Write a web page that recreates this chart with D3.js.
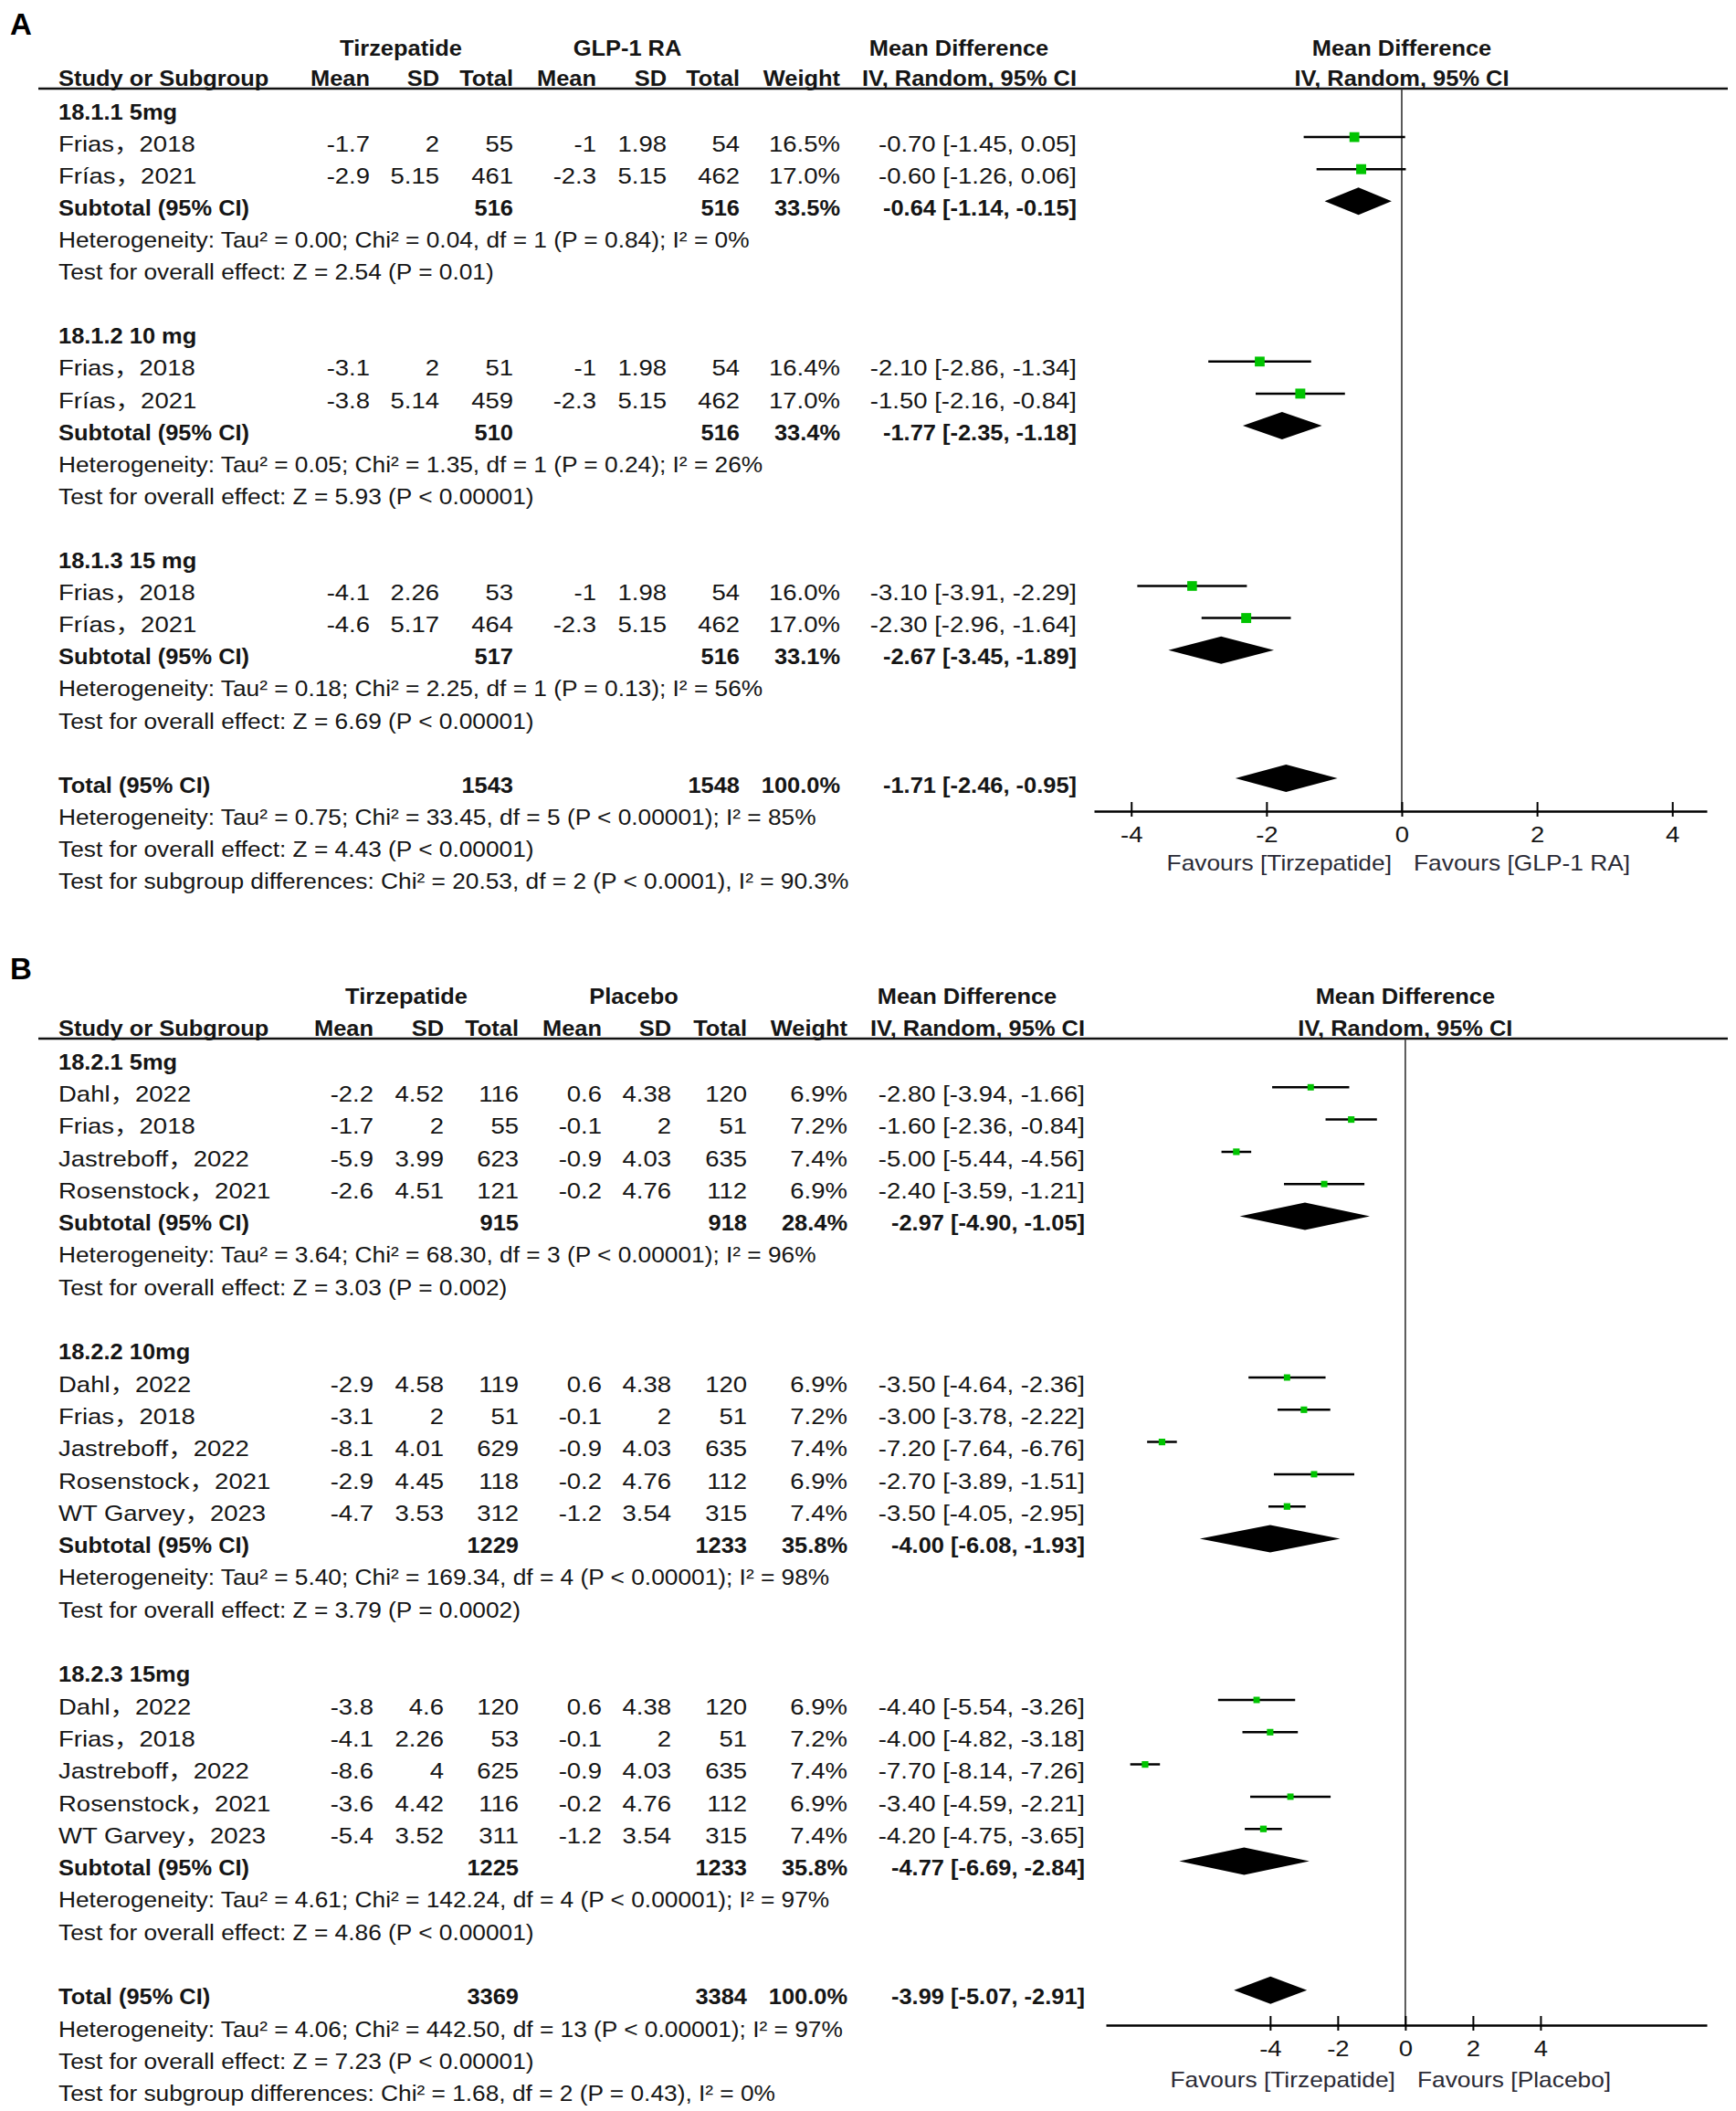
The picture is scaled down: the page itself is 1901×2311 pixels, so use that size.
<!DOCTYPE html>
<html><head><meta charset="utf-8">
<script src="https://cdn.jsdelivr.net/npm/d3@7"></script>
<style>body{margin:0;background:#fff} svg{display:block}</style>
</head><body>
<svg id="c" width="1901" height="2311"></svg>
<script>
// ================= Panel A data (Tirzepatide vs GLP-1 RA) =================
const groupsA   = ["18.1.1 5mg", "18.1.2 10 mg", "18.1.3 15 mg"];
const studyA    = ["Frias，2018", "Frías，2021", "Frias，2018", "Frías，2021", "Frias，2018", "Frías，2021"];
const groupOfA  = [0, 0, 1, 1, 2, 2];
const tMeanA    = [-1.7, -2.9, -3.1, -3.8, -4.1, -4.6];
const tSdA      = [2, 5.15, 2, 5.14, 2.26, 5.17];
const tNA       = [55, 461, 51, 459, 53, 464];
const cMeanA    = [-1, -2.3, -1, -2.3, -1, -2.3];
const cSdA      = [1.98, 5.15, 1.98, 5.15, 1.98, 5.15];
const cNA       = [54, 462, 54, 462, 54, 462];
const weightA   = [16.5, 17.0, 16.4, 17.0, 16.0, 17.0];
const mdA       = [-0.70, -0.60, -2.10, -1.50, -3.10, -2.30];
const loA       = [-1.45, -1.26, -2.86, -2.16, -3.91, -2.96];
const hiA       = [0.05, 0.06, -1.34, -0.84, -2.29, -1.64];
const subTNA    = [516, 510, 517];
const subCNA    = [516, 516, 516];
const subWA     = [33.5, 33.4, 33.1];
const subMdA    = [-0.64, -1.77, -2.67];
const subLoA    = [-1.14, -2.35, -3.45];
const subHiA    = [-0.15, -1.18, -1.89];
const hetA      = ["Heterogeneity: Tau² = 0.00; Chi² = 0.04, df = 1 (P = 0.84); I² = 0%",
                   "Heterogeneity: Tau² = 0.05; Chi² = 1.35, df = 1 (P = 0.24); I² = 26%",
                   "Heterogeneity: Tau² = 0.18; Chi² = 2.25, df = 1 (P = 0.13); I² = 56%"];
const testA     = ["Test for overall effect: Z = 2.54 (P = 0.01)",
                   "Test for overall effect: Z = 5.93 (P < 0.00001)",
                   "Test for overall effect: Z = 6.69 (P < 0.00001)"];
const totalA    = [1543, 1548, 100.0, -1.71, -2.46, -0.95];
const totalTextA = ["Heterogeneity: Tau² = 0.75; Chi² = 33.45, df = 5 (P < 0.00001); I² = 85%",
                    "Test for overall effect: Z = 4.43 (P < 0.00001)",
                    "Test for subgroup differences: Chi² = 20.53, df = 2 (P < 0.0001), I² = 90.3%"];
const ticksA    = [-4, -2, 0, 2, 4];

// ================= Panel B data (Tirzepatide vs Placebo) =================
const groupsB   = ["18.2.1 5mg", "18.2.2 10mg", "18.2.3 15mg"];
const studyB    = ["Dahl，2022", "Frias，2018", "Jastreboff，2022", "Rosenstock，2021",
                   "Dahl，2022", "Frias，2018", "Jastreboff，2022", "Rosenstock，2021", "WT Garvey，2023",
                   "Dahl，2022", "Frias，2018", "Jastreboff，2022", "Rosenstock，2021", "WT Garvey，2023"];
const groupOfB  = [0, 0, 0, 0, 1, 1, 1, 1, 1, 2, 2, 2, 2, 2];
const tMeanB    = [-2.2, -1.7, -5.9, -2.6, -2.9, -3.1, -8.1, -2.9, -4.7, -3.8, -4.1, -8.6, -3.6, -5.4];
const tSdB      = [4.52, 2, 3.99, 4.51, 4.58, 2, 4.01, 4.45, 3.53, 4.6, 2.26, 4, 4.42, 3.52];
const tNB       = [116, 55, 623, 121, 119, 51, 629, 118, 312, 120, 53, 625, 116, 311];
const cMeanB    = [0.6, -0.1, -0.9, -0.2, 0.6, -0.1, -0.9, -0.2, -1.2, 0.6, -0.1, -0.9, -0.2, -1.2];
const cSdB      = [4.38, 2, 4.03, 4.76, 4.38, 2, 4.03, 4.76, 3.54, 4.38, 2, 4.03, 4.76, 3.54];
const cNB       = [120, 51, 635, 112, 120, 51, 635, 112, 315, 120, 51, 635, 112, 315];
const weightB   = [6.9, 7.2, 7.4, 6.9, 6.9, 7.2, 7.4, 6.9, 7.4, 6.9, 7.2, 7.4, 6.9, 7.4];
const mdB       = [-2.80, -1.60, -5.00, -2.40, -3.50, -3.00, -7.20, -2.70, -3.50, -4.40, -4.00, -7.70, -3.40, -4.20];
const loB       = [-3.94, -2.36, -5.44, -3.59, -4.64, -3.78, -7.64, -3.89, -4.05, -5.54, -4.82, -8.14, -4.59, -4.75];
const hiB       = [-1.66, -0.84, -4.56, -1.21, -2.36, -2.22, -6.76, -1.51, -2.95, -3.26, -3.18, -7.26, -2.21, -3.65];
const subTNB    = [915, 1229, 1225];
const subCNB    = [918, 1233, 1233];
const subWB     = [28.4, 35.8, 35.8];
const subMdB    = [-2.97, -4.00, -4.77];
const subLoB    = [-4.90, -6.08, -6.69];
const subHiB    = [-1.05, -1.93, -2.84];
const hetB      = ["Heterogeneity: Tau² = 3.64; Chi² = 68.30, df = 3 (P < 0.00001); I² = 96%",
                   "Heterogeneity: Tau² = 5.40; Chi² = 169.34, df = 4 (P < 0.00001); I² = 98%",
                   "Heterogeneity: Tau² = 4.61; Chi² = 142.24, df = 4 (P < 0.00001); I² = 97%"];
const testB     = ["Test for overall effect: Z = 3.03 (P = 0.002)",
                   "Test for overall effect: Z = 3.79 (P = 0.0002)",
                   "Test for overall effect: Z = 4.86 (P < 0.00001)"];
const totalB    = [3369, 3384, 100.0, -3.99, -5.07, -2.91];
const totalTextB = ["Heterogeneity: Tau² = 4.06; Chi² = 442.50, df = 13 (P < 0.00001); I² = 97%",
                    "Test for overall effect: Z = 7.23 (P < 0.00001)",
                    "Test for subgroup differences: Chi² = 1.68, df = 2 (P = 0.43), I² = 0%"];
const ticksB    = [-4, -2, 0, 2, 4];

const colHeaders = ["Mean", "SD", "Total", "Mean", "SD", "Total", "Weight"];

// ================= drawing =================
const FONT = "'Liberation Sans', Arial, 'Noto Sans CJK SC', sans-serif";
const TXT = "#151515";
const GREEN = "#00c400";
const STAT_SX = 1.096;
const svg = d3.select("#c");

function txt(g, x, y, s, o = {}) {
  const bold = !!o.bold;
  const sx = o.sx != null ? o.sx : (bold ? 1.06 : 1.146);
  return g.append("text")
    .attr("transform", `translate(${x},${y}) scale(${sx},1)`)
    .attr("text-anchor", o.anchor || "start")
    .attr("font-family", FONT)
    .attr("font-size", o.size || 24)
    .attr("font-weight", bold ? "bold" : "normal")
    .attr("fill", o.fill || TXT)
    .text(s);
}
const f2 = v => v.toFixed(2);
const ci = (m, l, h) => `${f2(m)} [${f2(l)}, ${f2(h)}]`;

function drawPanel(d, L) {
  const g = svg.append("g");
  const x = d3.scaleLinear().domain(L.xDomain).range(L.xRange);
  const nRows = 40;
  const y = d3.scaleLinear().domain([0, nRows]).range([L.row0, L.row0 + nRows * L.pitch]);
  const BL = 8.6, MK = -7;   // baseline offset, marker offset from text centre
  const x0 = x(0);

  // panel letter
  g.append("text").attr("x", 11).attr("y", L.labelY).attr("font-family", FONT)
    .attr("font-size", 33).attr("font-weight", "bold").attr("fill", "#000").text(L.label);

  // header row 1
  txt(g, L.grpX[0], L.hdr1Y + BL, d.arms[0], {bold: true, anchor: "middle"});
  txt(g, L.grpX[1], L.hdr1Y + BL, d.arms[1], {bold: true, anchor: "middle"});
  txt(g, L.ciEnd - 129, L.hdr1Y + BL, "Mean Difference", {bold: true, anchor: "middle"});
  txt(g, x0, L.hdr1Y + BL, "Mean Difference", {bold: true, anchor: "middle"});
  // header row 2
  txt(g, L.nameX, L.hdr2Y + BL, "Study or Subgroup", {bold: true});
  colHeaders.forEach((h, i) => txt(g, L.cols[i], L.hdr2Y + BL, h, {bold: true, anchor: "end"}));
  txt(g, L.ciEnd, L.hdr2Y + BL, "IV, Random, 95% CI", {bold: true, anchor: "end"});
  txt(g, x0, L.hdr2Y + BL, "IV, Random, 95% CI", {bold: true, anchor: "middle"});
  g.append("line").attr("x1", 42).attr("x2", 1892).attr("y1", L.lineY).attr("y2", L.lineY)
    .attr("stroke", "#111").attr("stroke-width", 2.5);

  // zero line
  g.append("line").attr("x1", x0).attr("x2", x0).attr("y1", L.lineY).attr("y2", L.axisY)
    .attr("stroke", "#333").attr("stroke-width", 1.6);

  const diamond = (m, lo, hi, yy) =>
    `M${x(lo)},${yy}L${x(m)},${yy - 15}L${x(hi)},${yy}L${x(m)},${yy + 15}Z`;

  let r = 0;
  d.groups.forEach((gname, gi) => {
    txt(g, L.nameX, y(r) + BL, gname, {bold: true});
    r++;
    d.study.forEach((s, i) => {
      if (d.groupOf[i] !== gi) return;
      const yy = y(r);
      txt(g, L.nameX, yy + BL, s);
      const vals = [d.tMean[i], d.tSd[i], d.tN[i], d.cMean[i], d.cSd[i], d.cN[i]];
      vals.forEach((v, k) => txt(g, L.cols[k], yy + BL, String(v), {anchor: "end"}));
      txt(g, L.cols[6], yy + BL, d.weight[i].toFixed(1) + "%", {anchor: "end"});
      txt(g, L.ciEnd, yy + BL, ci(d.md[i], d.lo[i], d.hi[i]), {anchor: "end"});
      g.append("line").attr("x1", x(d.lo[i])).attr("x2", x(d.hi[i]))
        .attr("y1", yy + MK).attr("y2", yy + MK).attr("stroke", "#000").attr("stroke-width", 2.5);
      const side = 2.65 * Math.sqrt(d.weight[i]);
      g.append("rect").attr("x", x(d.md[i]) - side / 2).attr("y", yy + MK - side / 2)
        .attr("width", side).attr("height", side).attr("fill", GREEN);
      r++;
    });
    const yy = y(r);
    txt(g, L.nameX, yy + BL, "Subtotal (95% CI)", {bold: true});
    txt(g, L.cols[2], yy + BL, String(d.subTN[gi]), {bold: true, anchor: "end"});
    txt(g, L.cols[5], yy + BL, String(d.subCN[gi]), {bold: true, anchor: "end"});
    txt(g, L.cols[6], yy + BL, d.subW[gi].toFixed(1) + "%", {bold: true, anchor: "end"});
    txt(g, L.ciEnd, yy + BL, ci(d.subMd[gi], d.subLo[gi], d.subHi[gi]), {bold: true, anchor: "end"});
    g.append("path").attr("d", diamond(d.subMd[gi], d.subLo[gi], d.subHi[gi], yy + MK)).attr("fill", "#000");
    r++;
    txt(g, L.nameX, y(r) + BL, d.het[gi], {sx: STAT_SX}); r++;
    txt(g, L.nameX, y(r) + BL, d.test[gi], {sx: STAT_SX}); r++;
    r++;
  });
  // total
  const ty = y(r);
  txt(g, L.nameX, ty + BL, "Total (95% CI)", {bold: true});
  txt(g, L.cols[2], ty + BL, String(d.total[0]), {bold: true, anchor: "end"});
  txt(g, L.cols[5], ty + BL, String(d.total[1]), {bold: true, anchor: "end"});
  txt(g, L.cols[6], ty + BL, d.total[2].toFixed(1) + "%", {bold: true, anchor: "end"});
  txt(g, L.ciEnd, ty + BL, ci(d.total[3], d.total[4], d.total[5]), {bold: true, anchor: "end"});
  g.append("path").attr("d", diamond(d.total[3], d.total[4], d.total[5], ty + MK)).attr("fill", "#000");
  d.totalText.forEach((t, k) => txt(g, L.nameX, y(r + 1 + k) + BL, t, {sx: STAT_SX}));

  // axis
  const ax = g.append("g").attr("transform", `translate(0,${L.axisY})`)
    .call(d3.axisBottom(x).tickValues(d.ticks).tickFormat(v => String(v)).tickSizeOuter(0).tickSizeInner(6));
  ax.select(".domain").attr("stroke", "#000").attr("stroke-width", 2.5);
  ax.selectAll(".tick line").attr("y1", -10).attr("y2", 6).attr("stroke", "#000").attr("stroke-width", 2);
  ax.selectAll(".tick text").attr("y", 34).attr("dy", null)
    .attr("font-family", FONT).attr("font-size", 24).attr("fill", TXT)
    .attr("transform", "scale(1.146,1)");
  txt(g, x0 - 11, L.axisY + L.favDy, d.fav[0], {anchor: "end", size: 23, fill: "#2a2a35"});
  txt(g, x0 + 13, L.axisY + L.favDy, d.fav[1], {anchor: "start", size: 23, fill: "#2a2a35"});
}

drawPanel({
  groups: groupsA, study: studyA, groupOf: groupOfA, tMean: tMeanA, tSd: tSdA, tN: tNA,
  cMean: cMeanA, cSd: cSdA, cN: cNA, weight: weightA, md: mdA, lo: loA, hi: hiA,
  subTN: subTNA, subCN: subCNA, subW: subWA, subMd: subMdA, subLo: subLoA, subHi: subHiA,
  het: hetA, test: testA, total: totalA, totalText: totalTextA, ticks: ticksA,
  arms: ["Tirzepatide", "GLP-1 RA"], fav: ["Favours [Tirzepatide]", "Favours [GLP-1 RA]"]
}, {
  label: "A", labelY: 38, hdr1Y: 52, hdr2Y: 85, lineY: 97, row0: 122, pitch: 35.1,
  nameX: 64, cols: [405, 481, 562, 653, 730, 810, 920], ciEnd: 1179, grpX: [439, 687],
  xDomain: [-4.55, 4.51], xRange: [1198, 1869], axisY: 888, favDy: 65
});

drawPanel({
  groups: groupsB, study: studyB, groupOf: groupOfB, tMean: tMeanB, tSd: tSdB, tN: tNB,
  cMean: cMeanB, cSd: cSdB, cN: cNB, weight: weightB, md: mdB, lo: loB, hi: hiB,
  subTN: subTNB, subCN: subCNB, subW: subWB, subMd: subMdB, subLo: subLoB, subHi: subHiB,
  het: hetB, test: testB, total: totalB, totalText: totalTextB, ticks: ticksB,
  arms: ["Tirzepatide", "Placebo"], fav: ["Favours [Tirzepatide]", "Favours [Placebo]"]
}, {
  label: "B", labelY: 1072, hdr1Y: 1090, hdr2Y: 1125, lineY: 1137, row0: 1162, pitch: 35.3,
  nameX: 64, cols: [409, 486, 568, 659, 735, 818, 928], ciEnd: 1188, grpX: [445, 694],
  xDomain: [-8.86, 8.92], xRange: [1211, 1869], axisY: 2217, favDy: 68
});
</script>
</body></html>
